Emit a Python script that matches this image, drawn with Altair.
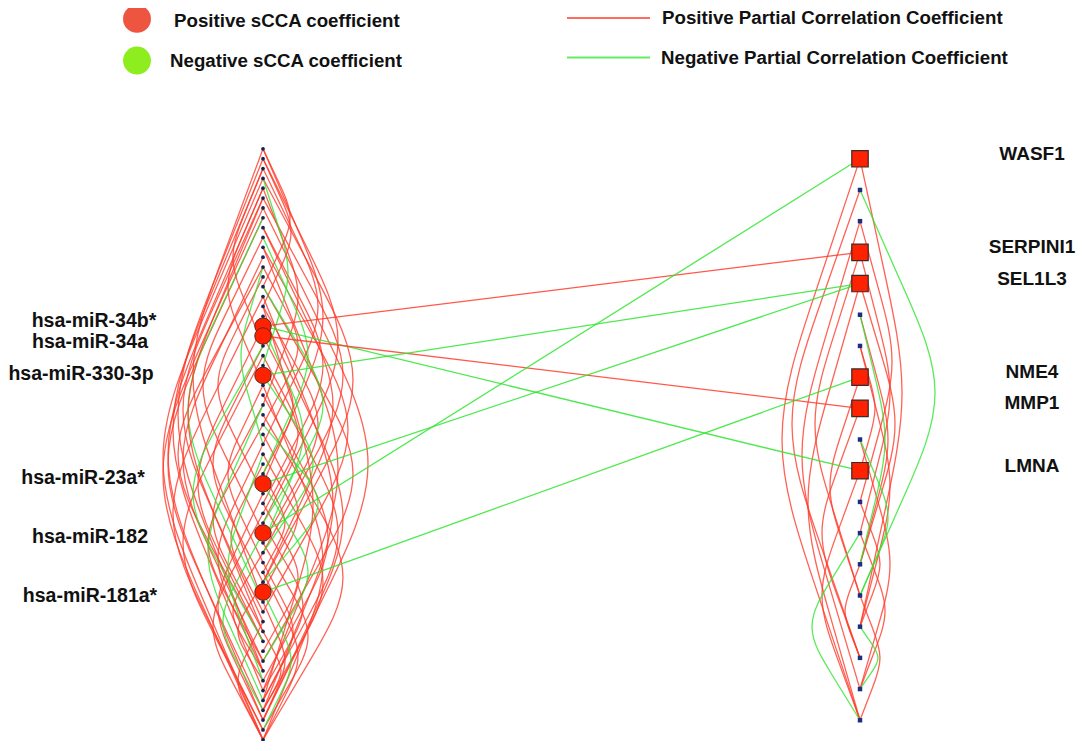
import altair as alt
import pandas as pd

# ---------------- data ----------------
left_node_count = 61          # miRNA column (small dots + highlighted)
right_node_count = 19         # gene column

mirna_index = [18, 19, 23, 34, 39, 45]
mirna_labels = ["hsa-miR-34b*", "hsa-miR-34a", "hsa-miR-330-3p",
                "hsa-miR-23a*", "hsa-miR-182", "hsa-miR-181a*"]

gene_index = [0, 3, 4, 7, 8, 10]
gene_labels = ["WASF1", "SERPINI1", "SEL1L3", "NME4", "MMP1", "LMNA"]

# links between the two columns (left index, right index, sign)
cross_from = [18, 18, 19, 23, 34, 39, 45]
cross_to = [3, 10, 8, 4, 4, 0, 7]
cross_sign = ["pos", "neg", "pos", "neg", "neg", "neg", "neg"]

# links inside the miRNA column (from, to, bend, sign)
left_from = [0, 1, 2, 3, 4, 5, 6, 8, 10, 12, 14, 16, 17,
             0, 2, 3, 5, 7, 9, 11, 13, 15, 18, 20, 1, 4, 6,
             19, 21, 22, 24, 25, 26, 27, 29, 30, 31, 32, 33, 35, 36, 37, 38,
             40, 41, 42, 43, 44, 46, 48, 49, 10, 12, 15, 21, 24, 28, 8,
             3, 7, 9, 12, 14, 18, 20, 23, 26, 28, 31, 34, 39, 45, 5, 16,
             0, 1, 2, 4]
left_to = [34, 38, 30, 44, 26, 41, 58, 36, 47, 28, 52, 40, 58,
           46, 55, 60, 48, 57, 39, 52, 35, 59, 50, 44, 53, 58, 60,
           33, 37, 56, 42, 54, 49, 60, 45, 53, 57, 47, 43, 58, 51, 60, 55,
           59, 53, 56, 60, 54, 58, 60, 57, 55, 50, 57, 59, 60, 52, 44,
           22, 46, 33, 30, 38, 40, 50, 41, 56, 44, 54, 52, 57, 59, 49, 56,
           14, 16, 20, 24]
left_bend = [60, 75, 55, 90, 35, 80, 105, 60, 85, 35, 90, 55, 80,
             -70, -90, -100, -80, -95, -60, -80, -45, -90, -65, -50, -85, -95, -100,
             30, 35, 75, -35, 65, -50, 80, 35, -45, 60, -32, 22, -45, 35, -50, 40,
             45, -30, 30, 35, -25, 22, -25, 18, 75, -85, 70, -80, 60, -55, 70,
             25, -75, 45, -22, 60, 40, -70, 50, -55, 55, -35, 45, -40, 28, -75, 50,
             27, 28, -30, -35]
left_sign = ["pos"] * 58 + ["neg"] * 14 + ["pos"] * 6

# links inside the gene column (from, to, bend, sign)
right_from = [0, 0, 1, 2, 2, 3, 3, 4, 4, 6, 6, 7, 8, 9, 10, 11, 12, 13, 14, 5,
              1, 5, 9, 12, 15]
right_to = [15, 18, 16, 11, 17, 12, 14, 13, 18, 10, 15, 14, 16, 17, 18, 15, 17, 16, 18, 13,
            14, 13, 14, 18, 17]
right_bend = [42, -78, -68, 32, -58, 30, -45, 35, -52, 15, 30, -30, -38, 30, -38, 20, 25, -15, 20, 28,
              75, 25, 28, -48, 18]
right_sign = ["pos"] * 20 + ["neg"] * 5

# ---------------- layout ----------------
XL, XR = 263, 860
LY0, LDY = 150, 9.93
RY0, RDY = 160, 31.45
RED, GREEN = "#ff3b2b", "#2fe52f"


def ly(i):
    return LY0 + i * LDY


def ry(k):
    return RY0 + k * RDY


def arc_points(x, ya, yb, dev):
    # control polygon for a basis spline: straight legs, rounded apex
    c = 1.2 * dev
    ym = (ya + yb) / 2
    ax = x + c
    return [(x, ya), ((x + ax) / 2, (ya + ym) / 2), (ax, ym),
            ((x + ax) / 2, (ym + yb) / 2), (x, yb)]


rows = []
eid = 0
for a, b, d, s in zip(left_from, left_to, left_bend, left_sign):
    for o, (x, y) in enumerate(arc_points(XL, ly(a), ly(b), d)):
        rows.append(dict(edge=eid, ord=o, x=x, y=y, sign=s))
    eid += 1
for a, b, d, s in zip(right_from, right_to, right_bend, right_sign):
    for o, (x, y) in enumerate(arc_points(XR, ry(a), ry(b), d)):
        rows.append(dict(edge=eid, ord=o, x=x, y=y, sign=s))
    eid += 1
arcs = pd.DataFrame(rows)

crows = []
for n, (a, b, s) in enumerate(zip(cross_from, cross_to, cross_sign)):
    crows.append(dict(edge=n, ord=0, x=XL, y=ly(a), sign=s))
    crows.append(dict(edge=n, ord=1, x=XR, y=ry(b), sign=s))
cross = pd.DataFrame(crows)

small_left = pd.DataFrame({"x": XL, "y": [ly(i) for i in range(left_node_count) if i not in mirna_index]})
small_right = pd.DataFrame({"x": XR, "y": [ry(k) for k in range(right_node_count) if k not in gene_index]})
big_left = pd.DataFrame({"x": XL, "y": [ly(i) for i in mirna_index]})
big_right = pd.DataFrame({"x": XR, "y": [ry(k) for k in gene_index]})

# label placement (layout only)
left_nudge_y = [-5, 6, -1, -6, 4, 4]
left_label_x = [94, 90, 81, 83, 90, 90]
lab_left = pd.DataFrame({"x": left_label_x,
                         "y": [ly(i) + n for i, n in zip(mirna_index, left_nudge_y)],
                         "t": mirna_labels})
lab_right = pd.DataFrame({"x": 1032, "y": [ry(k) - 5 for k in gene_index], "t": gene_labels})

X = alt.X("x:Q", scale=alt.Scale(domain=[8, 1078]), axis=None)
Y = alt.Y("y:Q", scale=alt.Scale(domain=[8, 747], reverse=True), axis=None)
col = alt.Color("sign:N", scale=alt.Scale(domain=["pos", "neg"], range=[RED, GREEN]), legend=None)

arc_layer = alt.Chart(arcs).mark_line(interpolate="basis", strokeWidth=1.3, opacity=0.8).encode(
    x=X, y=Y, color=col, detail="edge:N", order="ord:Q")
cross_layer = alt.Chart(cross).mark_line(strokeWidth=1.3, opacity=0.85).encode(
    x=X, y=Y, color=col, detail="edge:N", order="ord:Q")
sl = alt.Chart(small_left).mark_circle(size=14, color="#15234f", opacity=1).encode(x=X, y=Y)
sr = alt.Chart(small_right).mark_square(size=20, color="#1a2f80", opacity=1).encode(x=X, y=Y)
bl = alt.Chart(big_left).mark_circle(size=270, color="#ff2200", opacity=1, stroke="#5a2a20",
                                     strokeWidth=1).encode(x=X, y=Y)
br = alt.Chart(big_right).mark_square(size=270, color="#ff2200", opacity=1, stroke="#3a2a2a",
                                      strokeWidth=1.2).encode(x=X, y=Y)

FONT = "Liberation Sans"
tl = alt.Chart(lab_left).mark_text(font=FONT, fontSize=19.5, fontWeight="bold", align="center",
                                   baseline="middle", color="#111").encode(x=X, y=Y, text="t:N")
tr = alt.Chart(lab_right).mark_text(font=FONT, fontSize=19, fontWeight="bold", align="center",
                                    baseline="middle", color="#111").encode(x=X, y=Y, text="t:N")

# ---------------- legend ----------------
leg_pos = pd.DataFrame({"x": [137], "y": [19]})
leg_neg = pd.DataFrame({"x": [137], "y": [61]})
lp = alt.Chart(leg_pos).mark_circle(size=780, color="#ee5540", opacity=1).encode(x=X, y=Y)
ln = alt.Chart(leg_neg).mark_circle(size=780, color="#8ded1f", opacity=1).encode(x=X, y=Y)
leg_dot_text = pd.DataFrame({"x": [174, 170], "y": [21, 61],
                             "t": ["Positive sCCA coefficient", "Negative sCCA coefficient"]})
leg_lines = pd.DataFrame({"x": [567, 650, 567, 650], "y": [18, 18, 58, 58],
                          "edge": [0, 0, 1, 1], "sign": ["pos", "pos", "neg", "neg"]})
leg_line_layer = alt.Chart(leg_lines).mark_line(strokeWidth=2, opacity=0.75).encode(
    x=X, y=Y, color=col, detail="edge:N")
leg_line_text = pd.DataFrame({"x": [662, 661], "y": [18, 58],
                              "t": ["Positive Partial Correlation Coefficient",
                                    "Negative Partial Correlation Coefficient"]})
lt1 = alt.Chart(leg_dot_text).mark_text(font=FONT, fontSize=18.7, fontWeight="bold", align="left",
                                        baseline="middle", color="#111").encode(x=X, y=Y, text="t:N")
lt2 = alt.Chart(leg_line_text).mark_text(font=FONT, fontSize=18.7, fontWeight="bold", align="left",
                                         baseline="middle", color="#111").encode(x=X, y=Y, text="t:N")

chart = alt.layer(arc_layer, cross_layer, sl, sr, bl, br, tl, tr,
                  lp, ln, leg_line_layer, lt1, lt2).properties(
    width=1070, height=733, padding=0, autosize=alt.AutoSizeParams(type="none")
).configure_view(stroke=None)

chart.save("out.html", embed_options={"renderer": "svg", "actions": False})
